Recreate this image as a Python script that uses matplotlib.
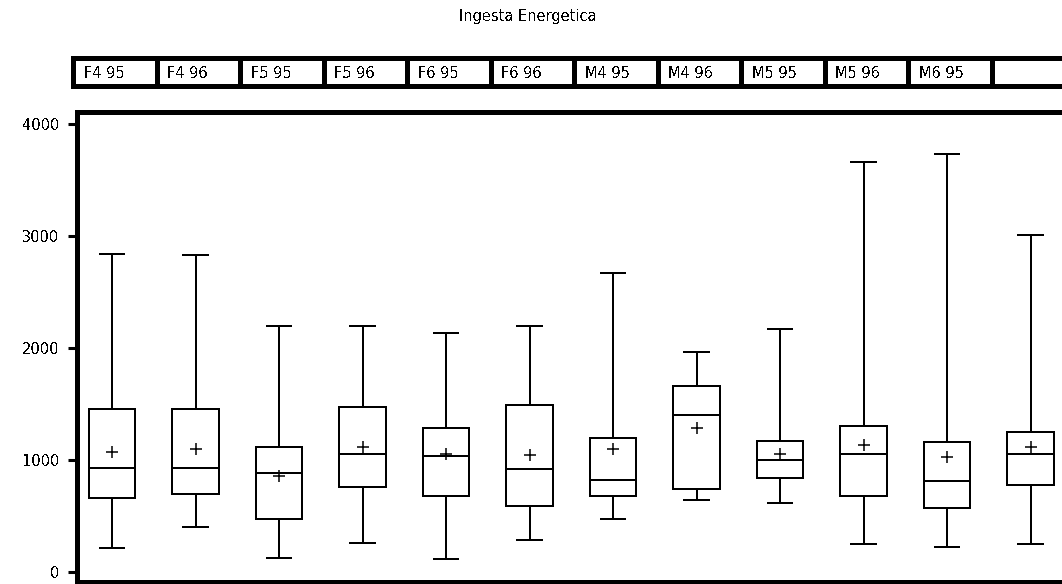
import matplotlib
matplotlib.use("Agg")
import matplotlib.pyplot as plt

# crisp, un-smoothed look like an old SAS graph
plt.rcParams['font.family'] = ['DejaVu Sans']
plt.rcParams['text.antialiased'] = False
plt.rcParams['lines.antialiased'] = False
plt.rcParams['patch.antialiased'] = False

# group labels (the last cell of the header is blank)
groups = ['F4 95', 'F4 96', 'F5 95', 'F5 96', 'F6 95', 'F6 96',
          'M4 95', 'M4 96', 'M5 95', 'M5 96', 'M6 95', '']

# energy intake summary per group
whis_hi = [2840, 2830, 2196, 2196, 2131, 2196, 2670, 1961, 2170, 3664, 3729, 3012]
q3 = [1458, 1458, 1119, 1476, 1289, 1491, 1199, 1661, 1173, 1307, 1158, 1253]
median = [931, 931, 881, 1054, 1036, 920, 821, 1399, 1000, 1054, 815, 1054]
mean = [1074, 1098, 860, 1119, 1054, 1045, 1098, 1289, 1054, 1134, 1024, 1119]
q1 = [661, 694, 473, 762, 682, 592, 682, 741, 842, 682, 568, 777]
whis_lo = [217, 402, 122, 256, 113, 286, 470, 643, 613, 247, 220, 247]

yticks = [0, 1000, 2000, 3000, 4000]

W, H = 1062, 584
fig = plt.figure(figsize=(W / 100, H / 100), dpi=100)

# main plotting area, running off the right and bottom edge
ax = fig.add_axes([77 / W, (H - 582) / H, (1064 - 77) / W, (582 - 112) / H])

stats = []
for i in range(len(groups)):
    stats.append(dict(med=median[i], q1=q1[i], q3=q3[i], whislo=whis_lo[i],
                      whishi=whis_hi[i], mean=mean[i], fliers=[]))

positions = list(range(1, len(groups) + 1))
lw = 1.1
ax.bxp(stats, positions=positions, widths=0.56, capwidths=0.29, showmeans=True,
       boxprops=dict(color='black', linewidth=lw),
       whiskerprops=dict(color='black', linewidth=lw),
       capprops=dict(color='black', linewidth=lw),
       medianprops=dict(color='black', linewidth=lw),
       meanprops=dict(marker='+', markersize=8, markeredgecolor='black',
                      markeredgewidth=1.1))

ax.set_xlim(0.58, 12.40)
ax.set_ylim(-89, 4107)
ax.set_xticks([])
ax.set_yticks(yticks)
ax.set_yticklabels([str(t) for t in yticks])
ax.tick_params(axis='y', direction='out', length=6.5, width=2.2, pad=6, labelsize=10.5)
for side in ['left', 'top', 'bottom']:
    ax.spines[side].set_linewidth(2.2)
ax.spines['right'].set_visible(False)

# header strip with the group names
hx = fig.add_axes([73 / W, (H - 86) / H, (1064 - 73) / W, (86 - 58) / H])
hx.set_xlim(0.533, 12.40)
hx.set_ylim(0, 1)
hx.set_xticks([])
hx.set_yticks([])
for side in ['left', 'top', 'bottom']:
    hx.spines[side].set_linewidth(2.2)
hx.spines['right'].set_visible(False)
for i, g in enumerate(groups):
    left = 0.533 + i
    if i > 0:
        hx.axvline(left, color='black', linewidth=2.2)
    hx.text(left + 0.13, 0.45, g, ha='left', va='center', fontsize=10.5)

fig.text(528 / W, 1 - 17 / H, 'Ingesta Energetica', ha='center', va='center', fontsize=10.5)

fig.savefig('out.png', dpi=100)
